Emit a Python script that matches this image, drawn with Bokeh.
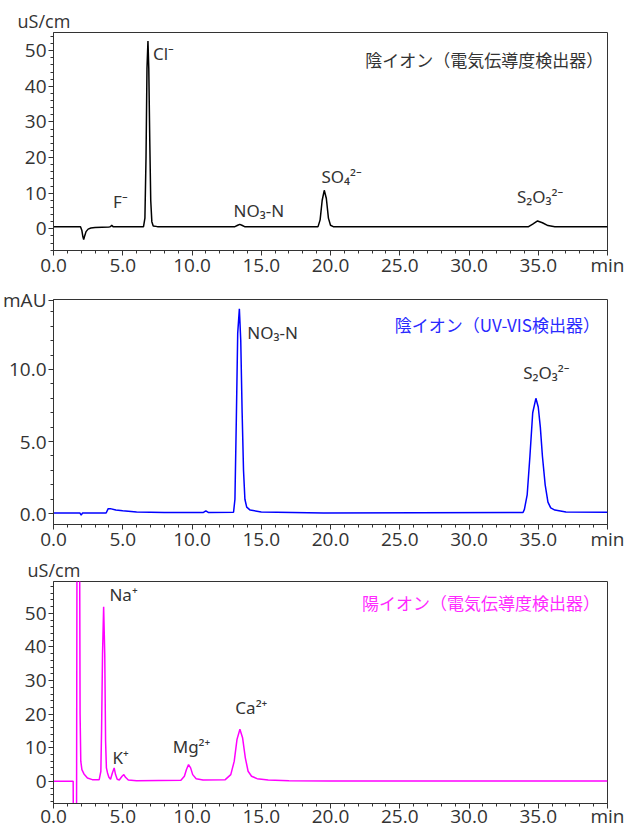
from bokeh.plotting import figure
from bokeh.models import Label, SingleIntervalTicker, FixedTicker, PrintfTickFormatter, Range1d
from bokeh.layouts import column
from bokeh.embed import file_html
from bokeh.resources import INLINE

# ---------------- data ----------------
# Panel 1: anions, conductivity detector (uS/cm)
anion_cd_t = [0.0, 1.95, 2.05, 2.12, 2.18, 2.25, 2.35, 2.5, 2.7, 3.0, 3.5, 4.0, 4.12, 4.2, 4.3, 4.5,
              6.5, 6.6, 6.68, 6.75, 6.82, 6.88, 6.95, 7.02, 7.1, 7.2, 7.5,
              13.1, 13.3, 13.45, 13.6, 13.8,
              19.1, 19.25, 19.4, 19.55, 19.7, 19.85, 20.0, 20.2,
              34.3, 34.6, 34.95, 35.3, 35.7, 36.2, 40.0]
anion_cd_v = [0.6, 0.6, -0.5, -2.2, -3.0, -2.0, -0.8, -0.1, 0.2, 0.35, 0.45, 0.5, 0.6, 1.0, 0.6, 0.55,
              0.6, 3.0, 20.0, 45.0, 52.7, 45.0, 25.0, 8.0, 2.0, 0.8, 0.6,
              0.6, 1.0, 1.25, 1.0, 0.6,
              0.6, 2.5, 8.0, 10.8, 8.5, 3.0, 1.0, 0.6,
              0.6, 1.3, 2.2, 1.7, 0.9, 0.6, 0.6]
anion_cd_labels = ["F⁻", "Cl⁻", "NO₃-N", "SO₄²⁻", "S₂O₃²⁻"]
anion_cd_label_t = [4.3, 7.18, 13.0, 19.35, 33.46]
anion_cd_label_v = [7.6, 49.3, 5.0, 14.7, 9.2]

# Panel 2: anions, UV-VIS detector (mAU)
anion_uv_t = [0.0, 1.9, 2.0, 2.1, 3.8, 3.95, 4.1, 4.5, 5.0, 6.0, 8.0, 10.8, 11.0, 11.2,
              13.0, 13.1, 13.2, 13.3, 13.42, 13.52, 13.62, 13.72, 13.82, 13.95, 14.2, 15.0, 19.5,
              33.9, 34.0, 34.2, 34.4, 34.6, 34.83, 35.0, 35.15, 35.3, 35.5, 35.7, 35.9, 36.2, 37.0, 40.0]
anion_uv_v = [0.05, 0.05, -0.1, 0.05, 0.05, 0.35, 0.35, 0.25, 0.2, 0.12, 0.08, 0.08, 0.2, 0.08,
              0.1, 1.0, 6.5, 12.5, 14.2, 12.0, 7.0, 3.0, 1.0, 0.45, 0.25, 0.12, 0.05,
              0.08, 0.3, 1.3, 4.0, 7.0, 8.0, 7.4, 6.0, 4.0, 2.0, 0.8, 0.4, 0.25, 0.12, 0.1]
anion_uv_labels = ["NO₃-N", "S₂O₃²⁻"]
anion_uv_label_t = [13.99, 33.92]
anion_uv_label_v = [12.55, 9.78]

# Panel 3: cations, conductivity detector (uS/cm)
cation_cd_t = [0.0, 1.42, 1.44, 1.66, 1.7, 1.88, 1.92, 1.97, 2.05, 2.2, 2.45, 2.8, 3.3,
               3.42, 3.47, 3.54, 3.62, 3.7, 3.76, 3.82, 3.9, 4.0, 4.12, 4.25, 4.38, 4.48, 4.6, 4.75,
               4.95, 5.08, 5.2, 5.4, 6.0,
               9.2, 9.45, 9.6, 9.75, 9.9, 10.05, 10.3, 10.8,
               12.4, 12.8, 13.05, 13.25, 13.46, 13.65, 13.85, 14.05, 14.3, 14.7, 15.5, 17.0, 20.0, 40.0]
cation_cd_v = [0.0, 0.0, -20.0, -20.0, 80.0, 80.0, 20.0, 6.0, 3.5, 2.2, 1.0, 0.5, 0.5,
               3.0, 15.0, 38.0, 52.0, 38.0, 12.0, 4.0, 2.5, 1.2, 0.6, 2.5, 4.0, 2.0, 0.6, 0.4,
               1.5, 2.0, 1.2, 0.4, 0.2,
               0.3, 1.5, 3.5, 5.0, 4.0, 2.0, 0.8, 0.4,
               0.5, 2.0, 6.0, 12.5, 15.5, 13.0, 7.0, 3.0, 1.5, 0.8, 0.4, 0.15, 0.1, 0.1]
cation_cd_labels = ["Na⁺", "K⁺", "Mg²⁺", "Ca²⁺"]
cation_cd_label_t = [4.04, 4.26, 8.61, 13.13]
cation_cd_label_v = [55.5, 7.1, 10.5, 21.9]

titles = ["陰イオン（電気伝導度検出器）", "陰イオン（UV-VIS検出器）", "陽イオン（電気伝導度検出器）"]
units = ["uS/cm", "mAU", "uS/cm"]
x_tick_overrides = {40: "min"}
uv_major_ticks = [0, 5, 10, 14.8]
uv_minor_ticks = [1, 2, 3, 4, 6, 7, 8, 9, 11, 12, 13, 14]

# ---------------- styling ----------------
LATIN = "Open Sans"
PEAKFONT = "Noto Sans"
CJK = "Noto Sans CJK JP"
AX = "#333333"


def make_fig(height, top, bottom, left, right, yr, yint, yfmt, xstandoff=-4):
    p = figure(width=627, height=height, x_range=Range1d(0, 40), y_range=Range1d(*yr),
               output_backend="svg", toolbar_location=None,
               min_border_top=top, min_border_bottom=bottom,
               min_border_left=left, min_border_right=right)
    p.xgrid.visible = False
    p.ygrid.visible = False
    p.outline_line_color = AX
    p.outline_line_width = 1
    p.background_fill_color = "white"
    p.border_fill_color = "white"
    p.xaxis.ticker = SingleIntervalTicker(interval=5, num_minor_ticks=5)
    p.xaxis.formatter = PrintfTickFormatter(format="%.1f")
    p.xaxis.major_label_overrides = x_tick_overrides
    if yint is not None:
        p.yaxis.ticker = SingleIntervalTicker(interval=yint, num_minor_ticks=5)
    p.yaxis.formatter = PrintfTickFormatter(format=yfmt)
    for ax in (p.xaxis[0], p.yaxis[0]):
        ax.axis_line_color = AX
        ax.major_tick_line_color = AX
        ax.minor_tick_line_color = AX
        ax.major_tick_in = 0
        ax.major_tick_out = 5
        ax.minor_tick_in = 0
        ax.minor_tick_out = 3
        ax.major_label_text_font = LATIN
        ax.major_label_text_font_size = "19px"
        ax.major_label_text_color = AX
    p.xaxis.major_label_standoff = xstandoff
    p.yaxis.major_label_standoff = 2
    return p


def add_labels(p, texts, xs, ys):
    for t, x, y in zip(texts, xs, ys):
        p.add_layout(Label(x=x, y=y, text=t, text_font=PEAKFONT, text_font_size="17px",
                           text_color=AX, text_align="left", text_baseline="middle"))


def add_title(p, text, x, y, color):
    p.add_layout(Label(x=x, y=y, text=text, text_font=CJK, text_font_size="17px",
                       text_color=color, text_align="right", text_baseline="middle"))


def set_unit(p, text, offset, standoff):
    p.title.text = text
    p.title.align = "left"
    p.title.offset = offset
    p.title.standoff = standoff
    p.title.text_font = LATIN
    p.title.text_font_size = "18px"
    p.title.text_font_style = "normal"
    p.title.text_color = AX


p1 = make_fig(280, 32, 26, 52, 20, (-6.1, 55.1), 10, "%d")
p1.line(anion_cd_t, anion_cd_v, line_color="black", line_width=1.5)
add_labels(p1, anion_cd_labels, anion_cd_label_t, anion_cd_label_v)
add_title(p1, titles[0], 39.7, 47.5, "#333333")
set_unit(p1, units[0], -36, 0)
p1.title.vertical_align = "bottom"
p1.title.text_line_height = 1.4

p2 = make_fig(275, 19, 31, 53, 19, (-0.75, 14.85), None, "%.1f")
p2.yaxis.ticker = FixedTicker(ticks=uv_major_ticks, minor_ticks=uv_minor_ticks)
p2.yaxis.major_label_overrides = {uv_major_ticks[-1]: units[1]}
p2.line(anion_uv_t, anion_uv_v, line_color="#0000ff", line_width=1.5)
add_labels(p2, anion_uv_labels, anion_uv_label_t, anion_uv_label_v)
add_title(p2, titles[1], 39.45, 13.1, "#2a2aff")

p3 = make_fig(276, 23, 24, 49, 17, (-6.6, 59.5), 10, "%d", xstandoff=-6)
p3.line(cation_cd_t, cation_cd_v, line_color="#ff00ff", line_width=1.5)
add_labels(p3, cation_cd_labels, cation_cd_label_t, cation_cd_label_v)
add_title(p3, titles[2], 39.45, 53.2, "#ff2aff")
set_unit(p3, units[2], -26, 0)

layout = column(p1, p2, p3, spacing=0)
open("out.html", "w").write(file_html(layout, INLINE))
